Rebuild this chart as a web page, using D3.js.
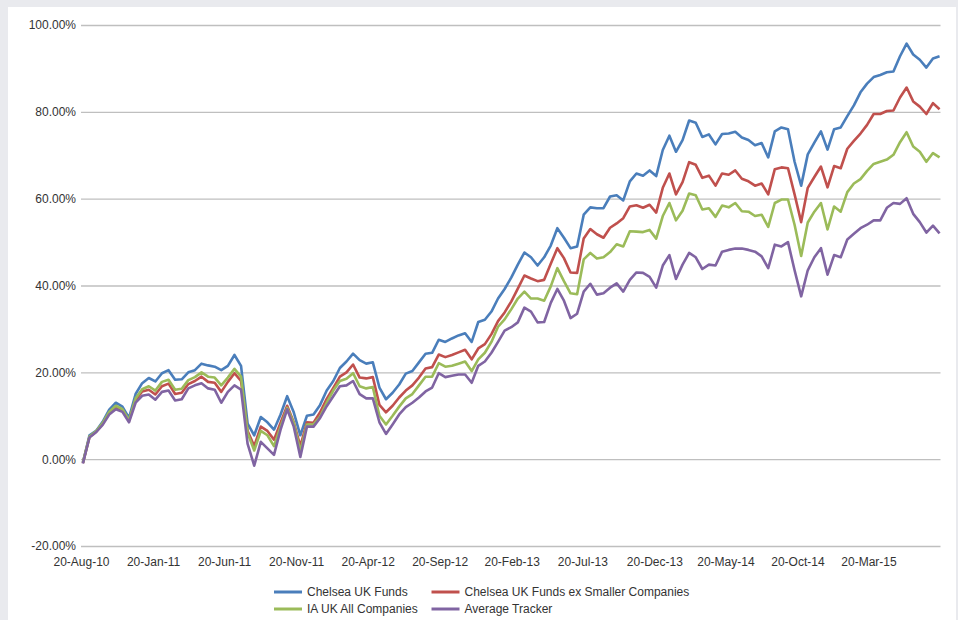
<!DOCTYPE html>
<html>
<head>
<meta charset="utf-8">
<script src="https://cdn.jsdelivr.net/npm/d3@7"></script>
<style>
  body { margin: 0; background: #e9eaee; }
  text { font-family: "Liberation Sans", Arial, sans-serif; fill: #333; }
</style>
</head>
<body>
<svg id="chart" width="958" height="620"></svg>
<script>

// fortnightly observations, first one on startDate
var startDate = "2010-08-24";
var stepDays = 14;

var tickLabels = ["20-Aug-10", "20-Jan-11", "20-Jun-11", "20-Nov-11", "20-Apr-12", "20-Sep-12",
  "20-Feb-13", "20-Jul-13", "20-Dec-13", "20-May-14", "20-Oct-14", "20-Mar-15"];
var yTicks = [-20, 0, 20, 40, 60, 80, 100];

var seriesNames = ["Chelsea UK Funds", "Chelsea UK Funds ex Smaller Companies",
  "IA UK All Companies", "Average Tracker"];
var seriesColors = ["#4a7ebb", "#c0504d", "#9bbb59", "#8064a2"];

var chelseaUK = [-0.8, 5.5, 6.5, 8.6, 11.4, 13.0, 12.1, 9.5, 15.0, 17.5,
  18.7, 17.9, 19.8, 20.5, 18.3, 18.4, 20.0, 20.5, 22.0, 21.6,
  21.3, 20.5, 21.5, 24.0, 21.5, 8.2, 5.5, 9.7, 8.5, 6.8,
  10.3, 14.5, 10.8, 5.5, 10.0, 10.3, 12.5, 15.8, 18.0, 21.0,
  22.5, 24.3, 22.8, 22.0, 22.3, 16.5, 13.8, 15.3, 17.2, 19.7,
  20.3, 22.3, 24.3, 24.5, 27.5, 27.0, 27.8, 28.5, 29.0, 27.0,
  31.6, 32.1, 34.0, 37.0, 39.2, 41.8, 44.8, 47.6, 46.5, 44.6,
  46.5, 49.2, 53.2, 51.0, 48.6, 49.0, 56.3, 58.0, 57.8, 57.8,
  60.5, 60.8, 59.6, 64.0, 65.8, 65.3, 66.5, 65.2, 71.2, 74.5,
  70.8, 73.5, 78.0, 77.5, 74.2, 74.8, 72.5, 74.9, 75.0, 75.4,
  74.1, 73.5, 72.3, 72.8, 69.5, 75.5, 76.4, 76.0, 68.5, 63.0,
  70.2, 72.9, 75.5, 71.3, 76.0, 76.4, 79.0, 81.5, 84.5, 86.5,
  88.0, 88.5, 89.1, 89.3, 92.8, 95.7, 93.2, 92.0, 90.2, 92.3, 92.8];

var chelseaExSmall = [-0.9, 5.1, 6.3, 8.1, 10.7, 12.0, 11.3, 8.8, 13.6, 15.6,
  16.0, 14.9, 16.8, 17.4, 15.0, 15.3, 17.3, 18.0, 19.0, 17.8,
  17.6, 15.5, 17.8, 19.8, 18.0, 6.5, 3.0, 7.5, 6.5, 4.5,
  8.4, 12.3, 8.5, 3.0, 8.5, 8.4, 10.8, 13.9, 16.4, 19.0,
  20.0, 21.8, 18.8, 18.6, 18.9, 12.5, 10.8, 12.3, 14.2, 15.8,
  17.0, 18.8, 20.9, 21.2, 24.1, 23.5, 24.0, 24.6, 25.2, 23.0,
  25.5, 26.5, 28.8, 31.8, 33.8, 36.3, 39.3, 42.3, 41.6, 41.0,
  41.3, 45.0, 48.6, 46.3, 43.0, 42.9, 50.8, 53.0, 51.8, 51.0,
  53.3, 54.3, 55.5, 58.2, 58.5, 57.9, 58.6, 56.8, 62.5, 65.8,
  61.0, 63.8, 68.4, 67.8, 64.8, 65.3, 63.0, 65.8, 65.5, 66.5,
  64.6, 64.0, 63.0, 63.5, 61.0, 66.8, 67.2, 67.0, 61.0, 54.6,
  62.5, 65.0, 67.4, 62.6, 67.5, 67.0, 71.5, 73.3, 75.0, 77.0,
  79.5, 79.5, 80.2, 80.3, 83.3, 85.6, 82.4, 81.2, 79.5, 82.0, 80.6];

var iaUKAll = [-0.8, 5.2, 6.4, 8.3, 10.9, 12.3, 11.5, 9.0, 14.0, 16.1,
  16.8, 15.8, 17.8, 18.3, 16.0, 16.2, 18.2, 18.9, 20.0, 19.0,
  18.8, 17.0, 18.8, 20.8, 19.0, 6.0, 2.0, 6.5, 5.5, 3.0,
  7.5, 11.8, 8.3, 1.8, 8.0, 8.0, 9.8, 13.0, 15.8, 18.0,
  18.5, 19.8, 16.8, 16.3, 16.6, 10.0, 8.0, 10.0, 12.1, 14.0,
  15.0, 17.0, 19.0, 19.0, 22.1, 21.3, 21.5, 22.0, 22.5, 20.3,
  23.0, 24.5, 27.0, 30.5, 32.2, 34.5, 37.0, 38.6, 37.0, 37.0,
  36.5, 39.8, 44.0, 41.0, 38.2, 38.0, 46.0, 47.5, 46.2, 46.5,
  47.7, 49.5, 49.0, 52.5, 52.4, 52.3, 52.8, 50.8, 56.0, 59.0,
  55.0, 57.2, 61.2, 60.8, 57.5, 57.8, 55.8, 58.4, 58.0, 59.0,
  57.1, 57.0, 56.0, 56.3, 53.5, 59.0, 59.8, 59.8, 54.0, 46.8,
  54.5, 57.0, 59.0, 52.9, 58.2, 57.0, 61.5, 63.5, 64.5, 66.4,
  68.0, 68.5, 69.0, 70.1, 73.0, 75.3, 72.0, 70.8, 68.5, 70.5, 69.5];

var avgTracker = [-1.0, 5.0, 6.2, 7.9, 10.3, 11.5, 10.9, 8.5, 13.0, 14.6,
  14.9, 13.7, 15.5, 15.8, 13.5, 13.8, 16.3, 17.0, 17.5, 16.3,
  16.0, 13.0, 15.5, 17.0, 16.0, 3.5, -1.5, 4.0, 2.5, 1.0,
  6.8, 11.5, 7.5, 0.5, 7.5, 7.5, 9.5, 12.2, 14.5, 16.8,
  17.0, 18.0, 15.0, 14.0, 14.0, 8.5, 5.8, 8.0, 10.3, 12.0,
  13.0, 14.2, 15.6, 16.5, 19.8, 18.9, 19.2, 19.5, 19.5, 17.6,
  21.5, 22.5, 24.5, 27.0, 29.6, 30.4, 31.5, 34.9, 34.0, 31.5,
  31.6, 36.0, 39.2, 36.5, 32.5, 33.5, 38.6, 40.4, 37.9, 38.2,
  39.5, 40.5, 38.6, 41.3, 43.0, 42.9, 42.0, 39.5, 44.6, 47.0,
  41.5, 44.8, 47.5, 46.5, 43.8, 44.8, 44.6, 47.8, 48.2, 48.5,
  48.5, 48.2, 47.8, 46.7, 44.0, 49.4, 49.0, 50.0, 43.5, 37.5,
  43.5, 46.5, 48.6, 42.5, 47.0, 46.5, 50.6, 51.9, 53.2, 54.0,
  55.0, 55.0, 57.9, 59.0, 58.8, 60.1, 56.5, 54.6, 52.2, 53.8, 52.0];

var allSeries = [chelseaUK, chelseaExSmall, iaUKAll, avgTracker];

var parseTick = d3.timeParse("%d-%b-%y");
var start = d3.timeParse("%Y-%m-%d")(startDate);
var dates = chelseaUK.map(function(d, i) { return d3.timeDay.offset(start, i * stepDays); });

var plotLeft = 81, plotRight = 940.5, plotTop = 25, plotBottom = 546;

var svg = d3.select("#chart");

svg.append("rect")
    .attr("x", 8).attr("y", 7)
    .attr("width", 948).attr("height", 613)
    .attr("fill", "#fff");

var x = d3.scaleTime()
    .domain([parseTick("20-Aug-10"), parseTick("20-Aug-15")])
    .range([plotLeft, plotRight]);
var y = d3.scaleLinear().domain([-20, 100]).range([plotBottom, plotTop]);

var yAxis = svg.append("g")
    .attr("transform", "translate(" + plotLeft + ",0)")
    .call(d3.axisLeft(y)
      .tickValues(yTicks)
      .tickSize(-(plotRight - plotLeft))
      .tickPadding(5)
      .tickFormat(function(d) { return d.toFixed(2) + "%"; }));
yAxis.select(".domain").remove();
yAxis.selectAll(".tick line").attr("stroke", "#bfbfbf").attr("stroke-width", 1.3);
yAxis.selectAll(".tick text").style("font-size", "12px").attr("fill", "#333");

var xAxis = svg.append("g")
    .attr("transform", "translate(0," + plotBottom + ")")
    .call(d3.axisBottom(x)
      .tickValues(tickLabels.map(parseTick))
      .tickSize(0)
      .tickPadding(11)
      .tickFormat(d3.timeFormat("%d-%b-%y")));
xAxis.select(".domain").remove();
xAxis.selectAll(".tick text").style("font-size", "12px").attr("fill", "#333");

var line = d3.line()
    .x(function(d, i) { return x(dates[i]); })
    .y(function(d) { return y(d); });

svg.selectAll("path.series")
    .data(allSeries)
    .enter().append("path")
    .attr("class", "series")
    .attr("d", line)
    .attr("fill", "none")
    .attr("stroke", function(d, i) { return seriesColors[i]; })
    .attr("stroke-width", 2.6)
    .attr("stroke-linejoin", "round");

// legend: two columns, two rows
var legendCols = [274, 431.5], legendRows = [592, 609];
var item = svg.selectAll("g.legend")
    .data(seriesNames)
    .enter().append("g")
    .attr("class", "legend")
    .attr("transform", function(d, i) {
      return "translate(" + legendCols[i % 2] + "," + legendRows[Math.floor(i / 2)] + ")";
    });
item.append("line")
    .attr("x1", 0).attr("x2", 28)
    .attr("stroke", function(d, i) { return seriesColors[i]; })
    .attr("stroke-width", 3);
item.append("text")
    .attr("x", 33)
    .attr("dy", "0.35em")
    .style("font-size", "12px")
    .text(function(d) { return d; });

</script>
</body>
</html>
